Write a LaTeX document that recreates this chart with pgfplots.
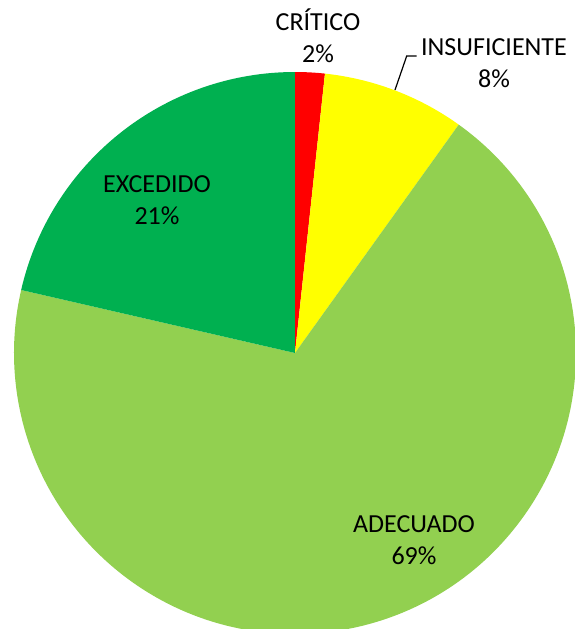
\documentclass[border=0pt]{standalone}
\usepackage{pgfplots}
\pgfplotsset{compat=1.18}
\usepackage{fontspec}
\setmainfont{Carlito}
\definecolor{cCri}{HTML}{FF0000}
\definecolor{cIns}{HTML}{FFFF00}
\definecolor{cAde}{HTML}{92D050}
\definecolor{cExc}{HTML}{00B050}
% slice values (percent)
\def\vCri{1.7}
\def\vIns{8.2}
\def\vAde{68.7}
\def\vExc{21.4}
\pgfmathsetmacro{\aA}{90}
\pgfmathsetmacro{\aB}{\aA-3.6*\vCri}
\pgfmathsetmacro{\aC}{\aB-3.6*\vIns}
\pgfmathsetmacro{\aD}{\aC-3.6*\vAde}
\pgfmathsetmacro{\aE}{\aD-3.6*\vExc}
\def\R{140.5pt}
\begin{document}
\begin{tikzpicture}
\begin{axis}[
  hide axis,
  x=0.5pt, y=0.5pt,
  xmin=0, xmax=575, ymin=0, ymax=629,
  clip=true,
]
\path (axis cs:0,0) rectangle (axis cs:575,629);
\fill[cCri] (axis cs:295,276) -- ++(\aA:\R) arc[start angle=\aA, end angle=\aB, radius=\R] -- cycle;
\fill[cIns] (axis cs:295,276) -- ++(\aB:\R) arc[start angle=\aB, end angle=\aC, radius=\R] -- cycle;
\fill[cAde] (axis cs:295,276) -- ++(\aC:\R) arc[start angle=\aC, end angle=\aD, radius=\R] -- cycle;
\fill[cExc] (axis cs:295,276) -- ++(\aD:\R) arc[start angle=\aD, end angle=\aE, radius=\R] -- cycle;
\draw[black, line width=0.6pt] (axis cs:395,539) -- (axis cs:406.7,573) -- (axis cs:416.7,573);
\tikzset{lbl/.style={align=center, inner sep=0pt, font=\fontsize{13}{16}\selectfont, text=black}}
\node[lbl] at (axis cs:318,593.5) {CRÍTICO\\2\%};
\node[lbl] at (axis cs:494,565.5) {INSUFICIENTE\\8\%};
\node[lbl] at (axis cs:157,429) {EXCEDIDO\\21\%};
\node[lbl] at (axis cs:414,89) {ADECUADO\\69\%};
\end{axis}
\end{tikzpicture}
\end{document}
